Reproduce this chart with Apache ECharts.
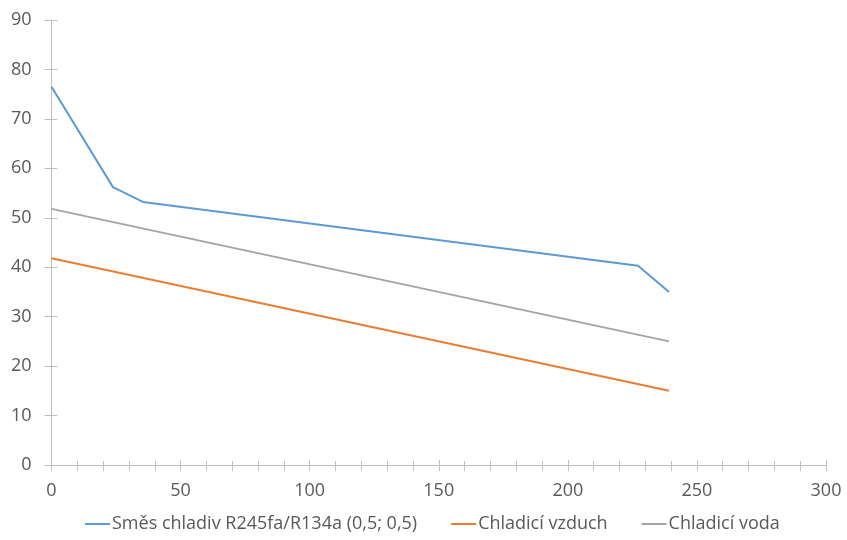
<!DOCTYPE html>
<html>
<head>
<meta charset="utf-8">
<script src="https://cdn.jsdelivr.net/npm/echarts@6/dist/echarts.min.js"></script>
<style>
    html, body { margin: 0; padding: 0; background: #fff; }
    #chart { width: 847px; height: 540px; }
</style>
</head>
<body>
<div id="chart"></div>
<script>
    var seriesNames = ['Směs chladiv R245fa/R134a (0,5; 0,5)', 'Chladicí vzduch', 'Chladicí voda'],
        mixX = [0, 23.8, 35.4, 227.2, 239.2],
        mixY = [76.5, 56.2, 53.2, 40.3, 35.0],
        airX = [0, 239.2],
        airY = [41.8, 15.0],
        waterX = [0, 239.2],
        waterY = [51.8, 25.0],
        xTicks = [0, 300, 50],
        yTicks = [0, 90, 10];

    var zip = function(xs, ys) {
        return xs.map(function(x, i) { return [x, ys[i]]; });
    };

    var labelStyle = {
        color: '#595959',
        fontSize: 18,
        fontFamily: 'Open Sans'
    };
    var lineColor = '#bfbfbf';

    var chart = echarts.init(document.getElementById('chart'));

    chart.setOption({
        animation: false,
        color: ['#5b9bd5', '#ed7d31', '#a5a5a5'],
        grid: { left: 51.5, right: 21, top: 20, bottom: 75 },
        legend: {
            bottom: 2,
            left: 80,
            icon: 'path://M0,0 L25,0 L25,2 L0,2 Z',
            itemWidth: 25,
            itemHeight: 2,
            itemGap: 34,
            textStyle: Object.assign({ padding: [0, 0, 0, -3] }, labelStyle),
            data: seriesNames
        },
        xAxis: [{
            type: 'value',
            min: xTicks[0],
            max: xTicks[1],
            interval: xTicks[2],
            axisLine: { lineStyle: { color: lineColor } },
            axisTick: { show: true, length: 6, lineStyle: { color: lineColor } },
            minorTick: { show: true, splitNumber: 5, length: 6, lineStyle: { color: lineColor } },
            splitLine: { show: false },
            axisLabel: Object.assign({ margin: 17 }, labelStyle)
        }, {
            // inner half of the crossing ticks
            type: 'value',
            position: 'bottom',
            min: xTicks[0],
            max: xTicks[1],
            interval: xTicks[2],
            axisLine: { show: false },
            axisTick: { show: true, inside: true, length: 5, lineStyle: { color: lineColor } },
            minorTick: { show: true, splitNumber: 5, length: 4, lineStyle: { color: lineColor } },
            splitLine: { show: false },
            axisLabel: { show: false }
        }],
        yAxis: [{
            type: 'value',
            min: yTicks[0],
            max: yTicks[1],
            interval: yTicks[2],
            axisLine: { show: true, lineStyle: { color: lineColor } },
            axisTick: { show: true, length: 7, lineStyle: { color: lineColor } },
            splitLine: { show: false },
            axisLabel: Object.assign({ margin: 20 }, labelStyle)
        }, {
            type: 'value',
            position: 'left',
            min: yTicks[0],
            max: yTicks[1],
            interval: yTicks[2],
            axisLine: { show: false },
            axisTick: { show: true, inside: true, length: 6, lineStyle: { color: lineColor } },
            splitLine: { show: false },
            axisLabel: { show: false }
        }],
        series: [{
            name: seriesNames[0],
            type: 'line',
            symbol: 'none',
            lineStyle: { width: 2 },
            data: zip(mixX, mixY)
        }, {
            name: seriesNames[1],
            type: 'line',
            symbol: 'none',
            lineStyle: { width: 2 },
            data: zip(airX, airY)
        }, {
            name: seriesNames[2],
            type: 'line',
            symbol: 'none',
            lineStyle: { width: 2 },
            data: zip(waterX, waterY)
        }]
    });
</script>
</body>
</html>
